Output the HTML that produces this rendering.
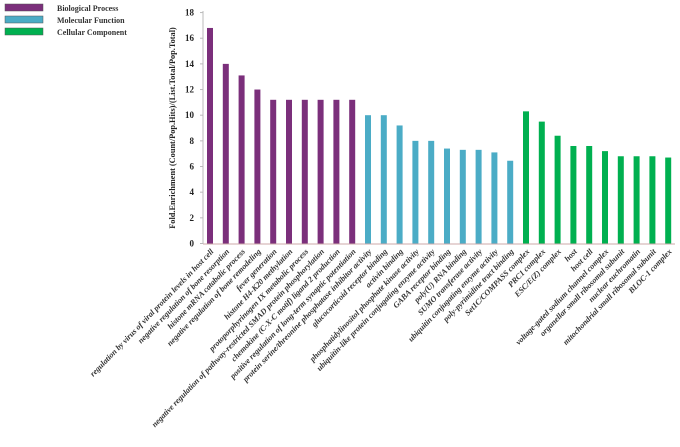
<!DOCTYPE html>
<html><head><meta charset="utf-8"><style>body{margin:0;background:#fff}</style></head><body>
<svg width="680" height="442" xmlns="http://www.w3.org/2000/svg" font-family="Liberation Serif, serif">
<rect x="5" y="4" width="38" height="7" fill="#7b2f7b" stroke="#555" stroke-width="0.5"/>
<rect x="5" y="16" width="38" height="7" fill="#4bacc6" stroke="#555" stroke-width="0.5"/>
<rect x="5" y="28" width="38" height="7" fill="#00b050" stroke="#555" stroke-width="0.5"/>
<g font-size="8" font-weight="bold" fill="#333">
<text x="57" y="11">Biological Process</text>
<text x="57" y="23">Molecular Function</text>
<text x="57" y="35">Cellular Component</text>
</g>
<text transform="translate(175,128) rotate(-90)" text-anchor="middle" font-size="8.3" font-weight="bold" fill="#222">Fold.Enrichment  (Count/Pop.Hits)/(List.Total/Pop.Total)</text>
<line x1="203" y1="11" x2="203" y2="244" stroke="#bbb"/>
<line x1="203" y1="244" x2="675" y2="244" stroke="#caa" stroke-width="1"/>
<g font-size="9" font-weight="bold" text-anchor="end" fill="#222" id="ticks"></g>
<g id="bars"></g>
<g id="labels" font-size="8.1" font-weight="bold" font-style="italic" fill="#333" text-anchor="end"></g>
<script>
var ns="http://www.w3.org/2000/svg";
var y0=243.5,k=12.83;
var t=document.getElementById('ticks');
for(var v=0;v<=18;v+=2){var e=document.createElementNS(ns,'text');e.setAttribute('x',194);e.setAttribute('y',y0-v*k+3);e.textContent=v;t.appendChild(e);
var l=document.createElementNS(ns,'line');l.setAttribute('x1',200);l.setAttribute('x2',203);l.setAttribute('y1',y0-v*k);l.setAttribute('y2',y0-v*k);l.setAttribute('stroke','#bbb');t.appendChild(l);}
var vals=[16.8,14,13.1,12,11.2,11.2,11.2,11.2,11.2,11.2,10,10,9.2,8,8,7.4,7.3,7.3,7.1,6.45,10.3,9.5,8.4,7.6,7.6,7.2,6.8,6.8,6.8,6.7];
var names=["regulation by virus of viral protein levels in host cell","negative regulation of bone resorption","histone mRNA catabolic process","negative regulation of bone remodeling","fever generation","histone H4-K20 methylation","protoporphyrinogen IX metabolic process","negative regulation of pathway-restricted SMAD protein phosphorylation","chemokine (C-X-C motif) ligand 2 production","positive regulation of long-term synaptic potentiation","protein serine/threonine phosphatase inhibitor activity","glucocorticoid receptor binding","activin binding","phosphatidylinositol phosphate kinase activity","ubiquitin-like protein conjugating enzyme activity","GABA receptor binding","poly(U) RNA binding","SUMO transferase activity","ubiquitin conjugating enzyme activity","poly-pyrimidine tract binding","Set1C/COMPASS complex","PRC1 complex","ESC/E(Z) complex","host","host cell","voltage-gated sodium channel complex","organellar small ribosomal subunit","nuclear euchromatin","mitochondrial small ribosomal subunit","BLOC-1 complex"];
var b=document.getElementById('bars'),L=document.getElementById('labels');
for(var i=0;i<30;i++){var cx=210+i*15.8;var c=i<10?'#7b2f7b':(i<20?'#4bacc6':'#00b050');
var r=document.createElementNS(ns,'rect');r.setAttribute('x',cx-3);r.setAttribute('width',6);r.setAttribute('y',y0-vals[i]*k);r.setAttribute('height',vals[i]*k);r.setAttribute('fill',c);b.appendChild(r);
var tx=document.createElementNS(ns,'text');tx.setAttribute('transform','translate('+(cx+4)+',252) rotate(-46)');tx.textContent=names[i];L.appendChild(tx);}
</script>
</svg>
</body></html>
